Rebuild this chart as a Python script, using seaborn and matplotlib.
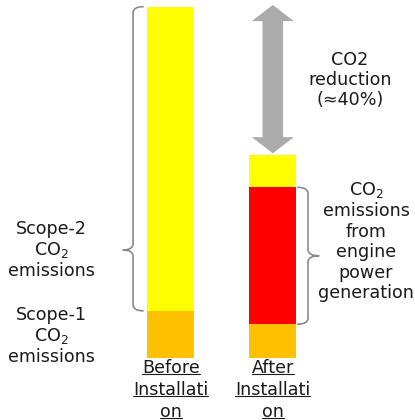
import matplotlib
matplotlib.use("Agg")
import matplotlib.pyplot as plt
import matplotlib.patches as mpatches
from matplotlib.path import Path
from matplotlib.lines import Line2D
import pandas as pd
import seaborn as sns

# Stacked CO2 emissions (before total = 100)
stages = ["Before\nInstallati\non", "After\nInstallati\non"]
scope1 = [13.5, 9.7]        # Scope-1 CO2 emissions
engine = [0.0, 38.9]        # CO2 emissions from engine power generation
scope2 = [86.5, 9.1]        # Scope-2 CO2 emissions (purchased power)

colors = {"scope1": "#FFC000", "engine": "#FF0000", "scope2": "#FFFF00"}
text_color = "#1a1a1a"
brace_color = "#8a8a8a"
arrow_color = "#ababab"

W, H = 415, 420
sns.set_theme(style="white")
plt.rcParams["font.family"] = ["DejaVu Sans"]

fig = plt.figure(figsize=(W / 100, H / 100), dpi=100)
ax = fig.add_axes([0, 0, 1, 1])

df = pd.DataFrame({"stage": stages, "scope1": scope1,
                   "engine": engine, "scope2": scope2})
df["top_engine"] = df["scope1"] + df["engine"]
df["total"] = df["top_engine"] + df["scope2"]

bar_w = 0.464
# Layers drawn from the tallest cumulative height down
sns.barplot(data=df, x="stage", y="total", order=stages, color=colors["scope2"],
            saturation=1, width=bar_w, linewidth=0, errorbar=None, ax=ax)
sns.barplot(data=df[df["engine"] > 0], x="stage", y="top_engine", order=stages,
            color=colors["engine"], saturation=1, width=bar_w, linewidth=0,
            errorbar=None, ax=ax)
sns.barplot(data=df, x="stage", y="scope1", order=stages, color=colors["scope1"],
            saturation=1, width=bar_w, linewidth=0, errorbar=None, ax=ax)

ax.set_xlim(-1.6745, 2.394)
ax.set_ylim(-17.55, 101.9)
ax.axis("off")


def brace(x_edge, x_line, x_tip, y0, y1, y_tip, ry):
    verts = [(x_edge, y1), (x_line, y1), (x_line, y1 - ry),
             (x_line, y_tip + ry),
             (x_line, y_tip), (x_tip, y_tip),
             (x_line, y_tip), (x_line, y_tip - ry),
             (x_line, y0 + ry),
             (x_line, y0), (x_edge, y0)]
    codes = [Path.MOVETO, Path.CURVE3, Path.CURVE3,
             Path.LINETO,
             Path.CURVE3, Path.CURVE3,
             Path.CURVE3, Path.CURVE3,
             Path.LINETO,
             Path.CURVE3, Path.CURVE3]
    ax.add_patch(mpatches.PathPatch(Path(verts, codes), fill=False,
                                    edgecolor=brace_color, lw=1.2,
                                    capstyle="round", joinstyle="round"))


half = bar_w / 2
# Scope-2 brace on the left of the first bar
b_lo, b_hi = scope1[0], scope1[0] + engine[0] + scope2[0]
brace(-half - 0.04, -half - 0.138, -half - 0.236, b_lo, b_hi,
      b_lo + 0.2 * (b_hi - b_lo), 1.8)
# Engine-generation brace on the right of the second bar
a_lo, a_hi = scope1[1], scope1[1] + engine[1]
brace(1 + half + 0.013, 1 + half + 0.113, 1 + half + 0.22, a_lo, a_hi,
      (a_lo + a_hi) / 2, 1.8)

# Double-headed reduction arrow between the two totals
before_total = float(df["total"].iloc[0])
after_total = float(df["total"].iloc[1])
y_bot, y_top = after_total + 0.6, before_total + 0.5
sw, hw, hl = 0.101, 0.206, 4.6
cx = 1
arrow = [(cx, y_top), (cx + hw, y_top - hl), (cx + sw, y_top - hl),
         (cx + sw, y_bot + hl), (cx + hw, y_bot + hl), (cx, y_bot),
         (cx - hw, y_bot + hl), (cx - sw, y_bot + hl), (cx - sw, y_top - hl),
         (cx - hw, y_top - hl)]
ax.add_patch(mpatches.Polygon(arrow, closed=True, facecolor=arrow_color,
                              edgecolor="none"))


def fpos(x, y):
    return x / W, 1 - y / H


fs = 12.6
ls = 1.17
blocks = [
    ("CO2\nreduction\n(≈40%)", 350, 80),
    ("Scope-2\nCO$_2$\nemissions", 51, 250),
    ("Scope-1\nCO$_2$\nemissions", 51, 336),
    ("CO$_2$\nemissions\nfrom\nengine\npower\ngeneration", 366, 241),
]
for txt, x, y in blocks:
    fig.text(*fpos(x, y), txt, ha="center", va="center", ma="center",
             fontsize=fs, color=text_color, linespacing=ls)

# Underlined category labels under each bar
label_rows = [368, 390, 412]
label_texts = []
for i, name in enumerate(stages):
    x_px = ax.transData.transform((i, 0))[0]
    for line, y in zip(name.split("\n"), label_rows):
        t = fig.text(*fpos(x_px, y), line, ha="center", va="center",
                     fontsize=fs, color=text_color)
        label_texts.append(t)

fig.canvas.draw()
renderer = fig.canvas.get_renderer()
for t in label_texts:
    bb = t.get_window_extent(renderer)
    y_line = bb.y0 + 3
    fig.add_artist(Line2D([bb.x0 / W, bb.x1 / W], [y_line / H, y_line / H],
                          transform=fig.transFigure, color=text_color, lw=0.8))

fig.savefig("out.png", dpi=100)
